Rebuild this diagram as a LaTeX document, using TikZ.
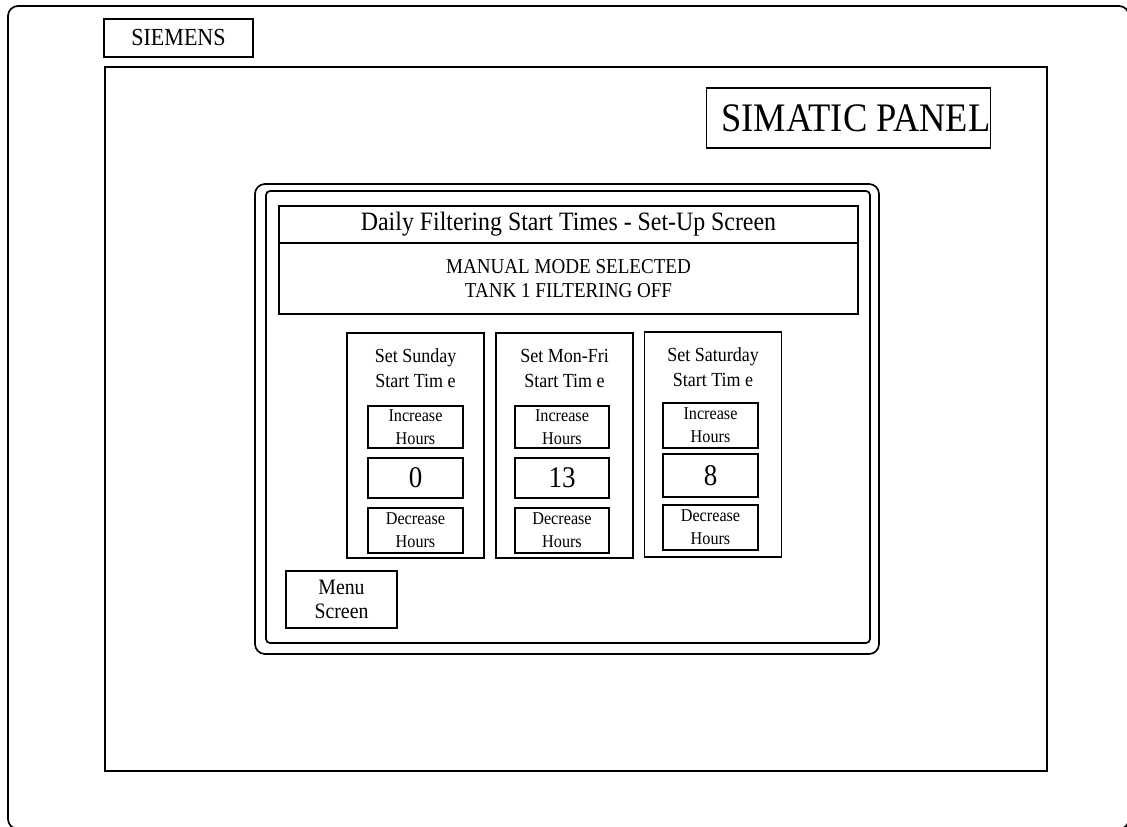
\documentclass[tikz,border=0pt]{standalone}
\usepackage{fontspec}
\setmainfont{Liberation Serif}[FakeStretch=0.9]
\usetikzlibrary{positioning}

\tikzset{
  frame/.style={draw, line width=1.7pt},
  box/.style={draw, line width=1.7pt, inner sep=0pt, outer sep=0pt, align=center},
  btn/.style={box, minimum width=95pt, font=\fontsize{18}{23}\selectfont},
  valbox/.style={box, minimum width=95pt, minimum height=40pt, font=\fontsize{30}{30}\selectfont},
  daybox/.style={box, minimum width=137pt, minimum height=225pt},
  daytitle/.style={inner sep=0pt, align=center, font=\fontsize{20}{25}\selectfont}
}

\begin{document}
\begin{tikzpicture}[x=1pt, y=-1pt]
    \useasboundingbox (0,0) rectangle (1127,827);
    % housing and screen
    \draw[frame, rounded corners=10pt] (8,829) -- (8,6) -- (1129,6) -- (1129,829) -- cycle;
    \draw[frame] (105,67) rectangle (1047,771);
    \node[box, minimum width=149pt, minimum height=38pt, font=\fontsize{24.5}{24.5}\selectfont] (siemens) at (178.5,38) {SIEMENS};
    \node[box, text width=284pt, align=flush right, minimum height=60pt, font=\fontsize{40.5}{40.5}\selectfont] (simatic) at (848.5,118) {SIMATIC PANEL};

    % panel window
    \draw[frame, rounded corners=10pt] (255,184) rectangle (879,654);
    \draw[frame, rounded corners=4pt] (266,191) rectangle (870,643);

    \node[box, minimum width=579pt, minimum height=37pt, font=\fontsize{26.5}{26.5}\selectfont] (title) at (568.5,224.5) {Daily Filtering Start Times - Set-Up Screen};
    \node[box, below=0pt of title, minimum width=579pt, minimum height=71pt, font=\fontsize{21.2}{24}\selectfont] (mode) {MANUAL MODE SELECTED\\TANK 1 FILTERING OFF};

    % Sunday
    \node[daybox] (sun) at (415.5,445.5) {};
    \node[daytitle] (suntitle) at (415.5,368) {Set Sunday\\Start Tim e};
    \node[btn, minimum height=42pt] (suninc) at (415.5,427) {Increase\\Hours};
    \node[valbox, below=10pt of suninc] (sunval) {0};
    \node[btn, minimum height=45pt, below=10pt of sunval] (sundec) {Decrease\\Hours};

    % Mon-Fri
    \node[daybox] (week) at (564.5,445.5) {};
    \node[daytitle] (weektitle) at (564.5,368) {Set Mon-Fri\\Start Tim e};
    \node[btn, minimum width=94pt, minimum height=42pt] (weekinc) at (562,427) {Increase\\Hours};
    \node[valbox, minimum width=94pt, below=10pt of weekinc] (weekval) {13};
    \node[btn, minimum width=94pt, minimum height=45pt, below=10pt of weekval] (weekdec) {Decrease\\Hours};

    % Saturday
    \node[daybox] (sat) at (713,444.5) {};
    \node[daytitle] (sattitle) at (713,367) {Set Saturday\\Start Tim e};
    \node[btn, minimum height=45pt] (satinc) at (710.5,425.5) {Increase\\Hours};
    \node[valbox, minimum height=43pt, below=6pt of satinc] (satval) {8};
    \node[btn, minimum height=45pt, below=8pt of satval] (satdec) {Decrease\\Hours};

    \node[box, minimum width=111pt, minimum height=57pt, font=\fontsize{22}{24}\selectfont] (menu) at (341.5,599.5) {Menu\\Screen};
\end{tikzpicture}
\end{document}
